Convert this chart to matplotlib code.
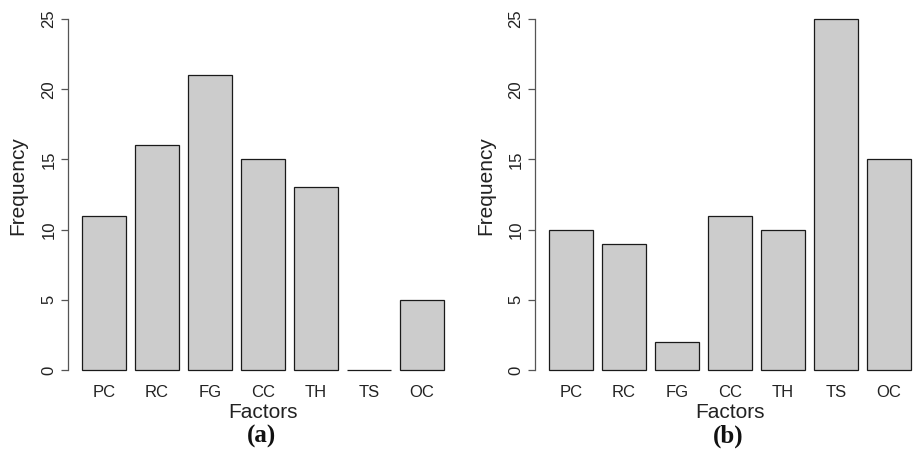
import matplotlib
matplotlib.use("Agg")
import matplotlib.pyplot as plt
import numpy as np

# factor codes and counts
factors = ["PC", "RC", "FG", "CC", "TH", "TS", "OC"]
freq_a = [11, 16, 21, 15, 13, 0, 5]
freq_b = [10, 9, 2, 11, 10, 25, 15]
y_ticks = [0, 5, 10, 15, 20, 25]
panel_tags = ["(a)", "(b)"]

plt.rcParams["font.family"] = ["Liberation Sans", "DejaVu Sans"]

W, H = 915, 450
fig = plt.figure(figsize=(W / 100, H / 100), dpi=100)

# R style barplot geometry: width 1, space 0.2
x = 0.7 + 1.2 * np.arange(len(factors))
xlim = (-0.128, 8.728)
ylim = (-1, 26)

# plot regions in pixels (left, right), top 5 px, bottom 384 px
regions = [(67.5, 458.5), (534.5, 925.5)]
freq_x = [8, 476.7]


def draw_panel(ax, values):
    ax.bar(x, values, width=1.0, color="#cccccc",
           edgecolor="#1a1a1a", linewidth=0.9)
    ax.set_xlim(*xlim)
    ax.set_ylim(*ylim)
    for s in ["top", "right", "bottom"]:
        ax.spines[s].set_visible(False)
    ax.spines["left"].set_bounds(0, 25)
    ax.spines["left"].set_color("#555555")
    ax.spines["left"].set_linewidth(0.9)
    ax.set_yticks(y_ticks)
    ax.set_yticklabels([str(t) for t in y_ticks])
    ax.tick_params(axis="y", length=5, width=0.9, color="#555555",
                   labelsize=12, labelcolor="#222222", labelrotation=90, pad=3)
    for lab in ax.get_yticklabels():
        lab.set_va("center")
    ax.set_xticks(x)
    ax.set_xticklabels(factors)
    ax.tick_params(axis="x", length=0, labelsize=12, labelcolor="#222222", pad=0.5)
    ax.set_xlabel("Factors", fontsize=15, color="#222222", labelpad=2.5)
    ax.patch.set_alpha(0)


for (x0, x1), vals, tag, fx in zip(regions, [freq_a, freq_b], panel_tags, freq_x):
    ax = fig.add_axes([x0 / W, (H - 384) / H, (x1 - x0) / W, (384 - 5) / H])
    draw_panel(ax, vals)
    fig.text(fx / W, 1 - 186 / H, "Frequency", rotation=90, ha="left",
             va="center", fontsize=15, color="#222222")
    fig.text((x0 + x1) / 2 / W - 2 / W, 1 - 443 / H, tag, ha="center",
             va="baseline", fontsize=18, fontweight="bold",
             family=["Liberation Serif", "DejaVu Serif"], color="#111111")

fig.savefig("out.png", dpi=100)
